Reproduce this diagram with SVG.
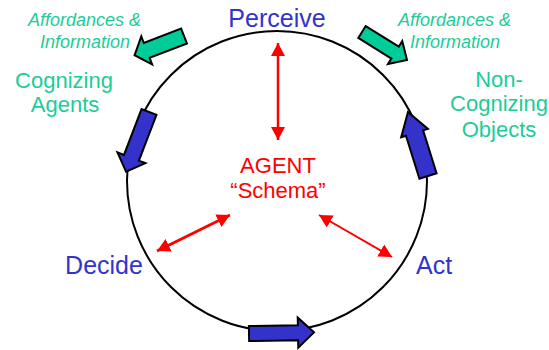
<svg xmlns="http://www.w3.org/2000/svg" width="549" height="350" viewBox="0 0 549 350">
<style>
.lbl{font-family:"Liberation Sans",Arial,sans-serif;}
.blue{fill:#3333cc;}
.teal{fill:#1ccc99;}
.red{fill:#ff0000;}
.barrow{fill:#3333cc;stroke:#000;stroke-width:2;stroke-linejoin:miter;}
.tarrow{fill:#00cc99;stroke:#000;stroke-width:2;stroke-linejoin:miter;}
.rline{stroke:#ff0000;fill:none;}
</style>
<defs>
<marker id="rh" markerUnits="userSpaceOnUse" markerWidth="14" markerHeight="14" refX="13" refY="7" orient="auto-start-reverse" viewBox="0 0 14 14">
<path d="M0,0 L13,7 L0,14 Z" fill="#ff0000"/>
</marker>
</defs>
<rect width="549" height="350" fill="#fff"/>
<g id="cycle">
<circle cx="277" cy="181" r="150" fill="none" stroke="#000" stroke-width="2"/>
</g>
<g id="connectors">
<line class="rline" x1="278" y1="43" x2="278" y2="140" stroke-width="2.5" marker-start="url(#rh)" marker-end="url(#rh)"/>
<line class="rline" x1="157" y1="251" x2="230" y2="215" stroke-width="3" marker-start="url(#rh)" marker-end="url(#rh)"/>
<line class="rline" x1="319" y1="215" x2="392" y2="257" stroke-width="2" marker-start="url(#rh)" marker-end="url(#rh)"/>
<polygon id="arrow-left" class="barrow" transform="translate(149,112) rotate(111)" points="0,-8 49,-8 49,-15 64,0 49,15 49,8 0,8"/>
<polygon id="arrow-right" class="barrow" transform="translate(428,176) rotate(-107.4)" points="0,-9 45,-9 45,-14 67,0 45,14 45,9 0,9"/>
<polygon id="arrow-bottom" class="barrow" transform="translate(249,333.5) rotate(-1)" points="0,-7.5 49,-7.5 49,-15 65,0 49,15 49,7.5 0,7.5"/>
<polygon id="teal-left" class="tarrow" transform="translate(184,36) rotate(158.8)" points="0,-8 40,-8 40,-15 53,0 40,15 40,8 0,8"/>
<polygon id="teal-right" class="tarrow" transform="translate(362,32) rotate(31.9)" points="0,-7 39,-7 39,-13.5 53,0 39,13.5 39,7 0,7"/>
</g>
<g id="perceive"><text class="lbl blue" x="277" y="27" font-size="25" text-anchor="middle">Perceive</text></g>
<g id="decide"><text class="lbl blue" x="104" y="274" font-size="25" text-anchor="middle">Decide</text></g>
<g id="act"><text class="lbl blue" x="416" y="274" font-size="25">Act</text></g>
<g id="agent">
<text class="lbl red" x="278" y="173" font-size="22" text-anchor="middle">AGENT</text>
<text class="lbl red" x="278" y="198" font-size="22" text-anchor="middle">“Schema”</text>
</g>
<g id="afford-left">
<text class="lbl teal" font-style="italic" x="28" y="26" font-size="18">Affordances &amp;</text>
<text class="lbl teal" font-style="italic" x="40" y="48" font-size="18">Information</text>
</g>
<g id="afford-right">
<text class="lbl teal" font-style="italic" x="398" y="26" font-size="18">Affordances &amp;</text>
<text class="lbl teal" font-style="italic" x="410" y="48" font-size="18">Information</text>
</g>
<g id="cognizing-agents">
<text class="lbl teal" x="64" y="88" font-size="22" text-anchor="middle">Cognizing</text>
<text class="lbl teal" x="65" y="112" font-size="22" text-anchor="middle">Agents</text>
</g>
<g id="non-cognizing">
<text class="lbl teal" x="499" y="87" font-size="22" text-anchor="middle">Non-</text>
<text class="lbl teal" x="499" y="111" font-size="22" text-anchor="middle">Cognizing</text>
<text class="lbl teal" x="499" y="137" font-size="22" text-anchor="middle">Objects</text>
</g>
</svg>
